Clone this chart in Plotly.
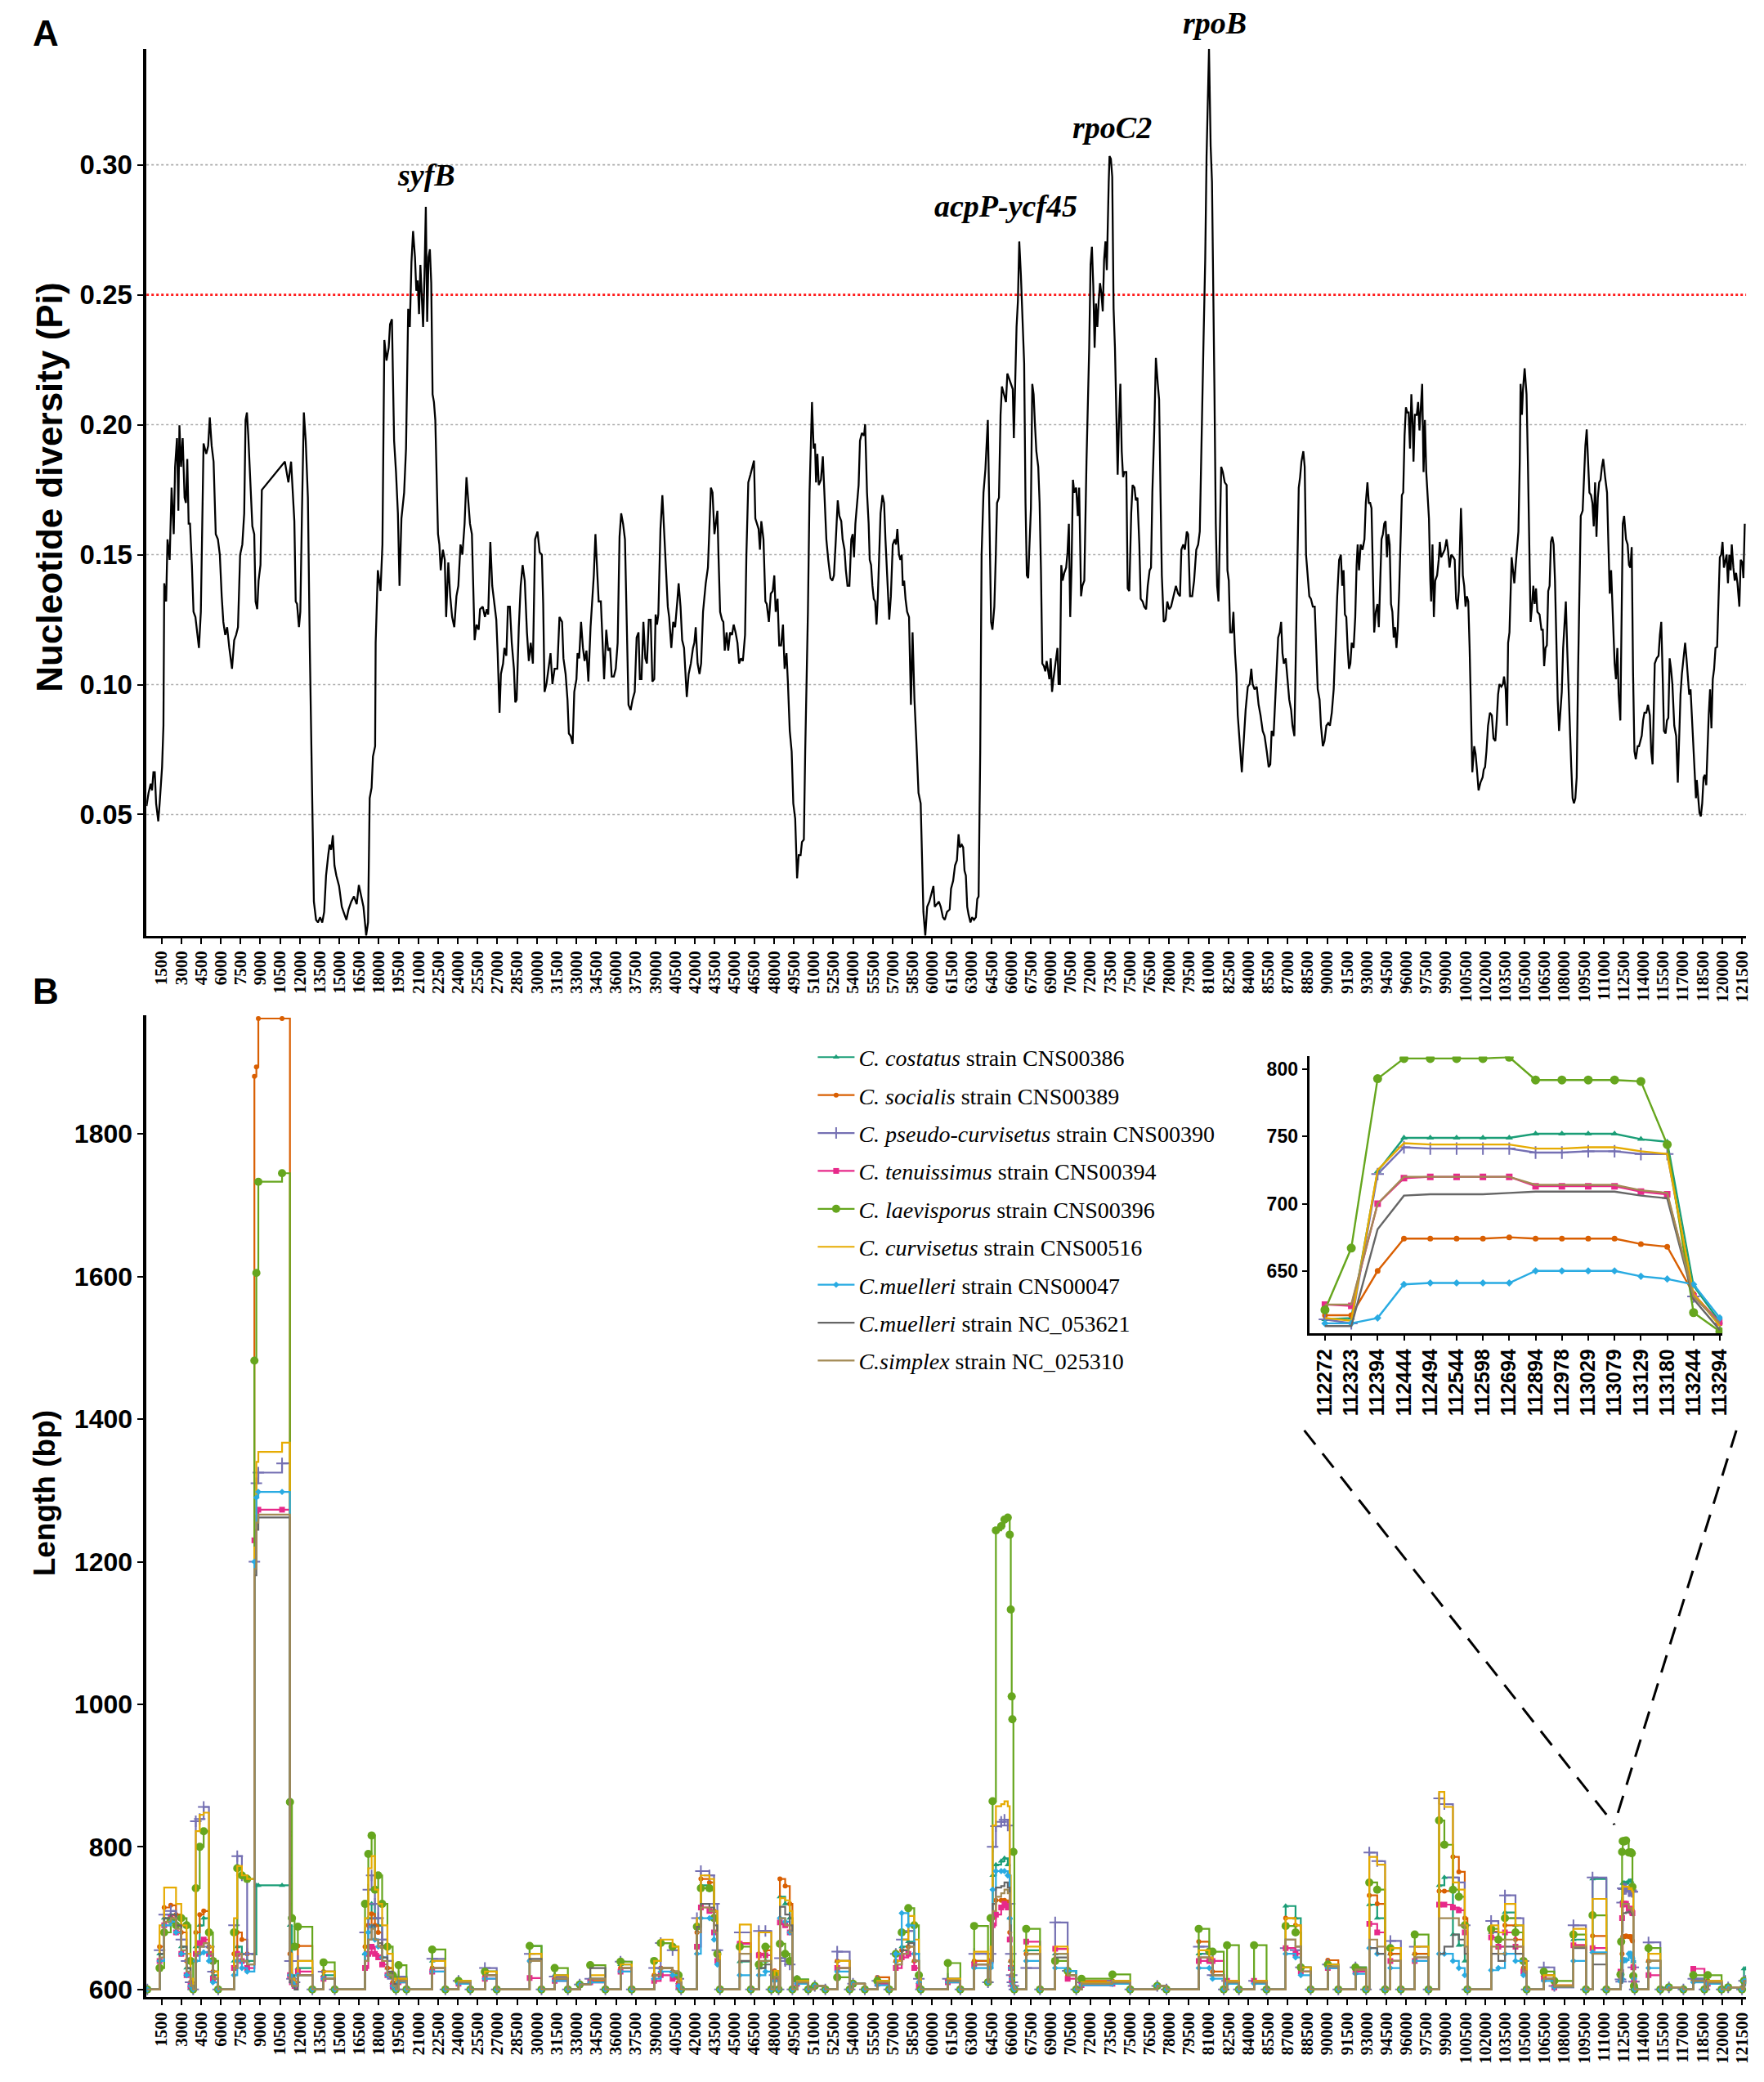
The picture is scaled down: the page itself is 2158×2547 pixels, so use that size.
import plotly.graph_objects as go

W, H = 2158, 2547

# ---------------- Panel A: sliding-window nucleotide diversity (position bp, Pi) ----------------
PI_SEG1 = [
    (360, 0.0533), (512, 0.0583), (677, 0.0619), (780, 0.0593), (883, 0.0663), (986, 0.0663), (1089, 0.0543),
    (1253, 0.0474), (1356, 0.0543), (1541, 0.0683), (1644, 0.0842), (1706, 0.1390), (1850, 0.1320), (1953, 0.1559),
    (2118, 0.1480), (2262, 0.1758), (2426, 0.1579), (2529, 0.1838), (2673, 0.1948), (2776, 0.1669), (2858, 0.1998),
    (2982, 0.1838), (3105, 0.1948), (3250, 0.1719), (3352, 0.1699), (3455, 0.1868), (3558, 0.1619), (3661, 0.1619),
    (3805, 0.1460), (3929, 0.1280), (4073, 0.1260), (4176, 0.1221), (4340, 0.1141), (4484, 0.1280), (4587, 0.1579),
    (4690, 0.1928), (4896, 0.1888), (5040, 0.1918), (5163, 0.2028), (5308, 0.1918), (5452, 0.1858), (5616, 0.1579),
    (5781, 0.1559), (5925, 0.1500), (6069, 0.1340), (6192, 0.1241), (6337, 0.1191), (6481, 0.1221), (6645, 0.1141),
    (6851, 0.1061), (7016, 0.1171), (7160, 0.1191), (7304, 0.1221), (7468, 0.1500), (7633, 0.1539), (7777, 0.1659),
    (7880, 0.2018), (7983, 0.2047), (8086, 0.1958), (8250, 0.1778), (8395, 0.1609), (8539, 0.1579), (8641, 0.1320),
    (8765, 0.1290), (8868, 0.1400), (9012, 0.1460), (9115, 0.1749), (10864, 0.1858), (10967, 0.1828), (11132, 0.1778),
    (11337, 0.1858), (11482, 0.1699), (11584, 0.1629), (11687, 0.1320), (11790, 0.1310), (11934, 0.1221),
    (12037, 0.1280), (12161, 0.1659), (12305, 0.2047), (12449, 0.1938), (12613, 0.1719), (12757, 0.1141),
    (12922, 0.0543), (13066, 0.0165), (13231, 0.0095), (13375, 0.0085), (13540, 0.0105), (13704, 0.0085),
    (13848, 0.0125), (13992, 0.0265), (14157, 0.0344), (14260, 0.0384), (14383, 0.0364), (14507, 0.0420),
    (14630, 0.0304), (14774, 0.0265), (14980, 0.0225), (15186, 0.0145), (15392, 0.0115), (15536, 0.0095),
    (15700, 0.0135), (15906, 0.0165), (16112, 0.0185), (16318, 0.0155), (16482, 0.0229), (16627, 0.0195),
    (16832, 0.0145), (17038, 0.0035), (17180, 0.0085), (17304, 0.0563), (17449, 0.0603), (17552, 0.0723),
    (17716, 0.0763), (17758, 0.1161), (17922, 0.1440), (18128, 0.1360), (18272, 0.1539), (18417, 0.2326),
    (18582, 0.2247), (18746, 0.2296), (18849, 0.2386), (18993, 0.2406), (19158, 0.1938), (19302, 0.1818),
    (19446, 0.1659), (19569, 0.1380), (19714, 0.1639), (19919, 0.1739), (20063, 0.1908), (20228, 0.2446),
    (20351, 0.2376), (20475, 0.2625), (20598, 0.2745), (20742, 0.2645), (20845, 0.2515), (20948, 0.2555),
    (21051, 0.2426), (21154, 0.2615), (21257, 0.2496), (21360, 0.2376), (21463, 0.2575), (21566, 0.2838),
    (21669, 0.2396), (21772, 0.2645), (21874, 0.2675), (21977, 0.2545), (22080, 0.2117), (22183, 0.2087),
    (22286, 0.2018), (22389, 0.1739), (22492, 0.1579), (22595, 0.1539), (22698, 0.1440), (22862, 0.1519),
    (23006, 0.1480), (23109, 0.1260), (23274, 0.1470), (23418, 0.1340), (23562, 0.1260), (23727, 0.1221),
    (23891, 0.1340), (24035, 0.1380), (24200, 0.1539), (24344, 0.1500), (24509, 0.1619), (24653, 0.1798),
    (24797, 0.1699), (24920, 0.1619), (25065, 0.1579), (25209, 0.1340), (25271, 0.1171), (25415, 0.1231),
    (25579, 0.1211), (25682, 0.1290), (25888, 0.1300), (26053, 0.1260), (26197, 0.1290), (26300, 0.1270),
    (26465, 0.1549), (26609, 0.1380), (26773, 0.1300), (26917, 0.1250), (27020, 0.1121), (27164, 0.0892),
    (27267, 0.1041), (27432, 0.1081), (27535, 0.1141), (27679, 0.1111), (27802, 0.1300), (27947, 0.1300),
    (28091, 0.1161), (28256, 0.1061), (28359, 0.0932), (28462, 0.0942), (28626, 0.1221), (28770, 0.1380),
    (28915, 0.1460), (29079, 0.1400), (29244, 0.1201), (29388, 0.1091), (29532, 0.1161), (29697, 0.1081),
    (29861, 0.1559), (30046, 0.1589), (30211, 0.1509), (30375, 0.1500), (30478, 0.1310), (30581, 0.0972),
    (30726, 0.1002), (30890, 0.1061), (31035, 0.1121), (31179, 0.1002), (31343, 0.1061), (31549, 0.1061),
    (31712, 0.1260),
]

PI_SEG2 = [
    (31912, 0.1241), (32015, 0.1101), (32179, 0.1041), (32323, 0.0942), (32426, 0.0812), (32570, 0.0802),
    (32714, 0.0772), (32838, 0.0972), (33002, 0.1021), (33085, 0.1121), (33208, 0.1101), (33352, 0.1241),
    (33496, 0.1141), (33620, 0.1091), (33764, 0.1131), (33908, 0.1012), (34073, 0.1221), (34176, 0.1310),
    (34320, 0.1420), (34443, 0.1579), (34587, 0.1440), (34690, 0.1320), (34855, 0.1320), (34999, 0.1121),
    (35102, 0.1021), (35266, 0.1211), (35410, 0.1131), (35554, 0.1141), (35678, 0.1031), (35843, 0.1031),
    (35987, 0.1061), (36131, 0.1161), (36275, 0.1569), (36398, 0.1659), (36542, 0.1619), (36686, 0.1559),
    (36810, 0.1241), (36954, 0.0922), (37118, 0.0902), (37263, 0.0942), (37427, 0.0972), (37571, 0.1181),
    (37715, 0.1201), (37818, 0.1021), (37942, 0.1021), (38086, 0.1241), (38230, 0.1101), (38353, 0.1081),
    (38497, 0.1250), (38641, 0.1250), (38765, 0.1012), (38909, 0.1021), (39012, 0.1270), (39115, 0.1231),
    (39218, 0.1270), (39382, 0.1599), (39526, 0.1729), (39670, 0.1569), (39794, 0.1480), (39938, 0.1300),
    (40041, 0.1260), (40205, 0.1141), (40350, 0.1241), (40494, 0.1221), (40658, 0.1320), (40761, 0.1390),
    (40905, 0.1300), (41029, 0.1171), (41173, 0.1141), (41276, 0.1061), (41379, 0.0952), (41523, 0.1041),
    (41688, 0.1081), (41852, 0.1141), (41955, 0.1161), (42058, 0.1221), (42202, 0.1081), (42346, 0.1041),
    (42469, 0.1081), (42614, 0.1280), (42717, 0.1350), (42819, 0.1390), (42984, 0.1450), (43087, 0.1589),
    (43210, 0.1758), (43334, 0.1739), (43478, 0.1579), (43581, 0.1619), (43704, 0.1669), (43786, 0.1500),
    (43910, 0.1280), (44054, 0.1250), (44157, 0.1241), (44260, 0.1131), (44404, 0.1201), (44527, 0.1131),
    (44671, 0.1201), (44815, 0.1191), (44939, 0.1231), (45083, 0.1201), (45227, 0.1161), (45350, 0.1081),
    (45494, 0.1101), (45638, 0.1091), (45803, 0.1191), (45906, 0.1500), (46050, 0.1778), (46215, 0.1808),
    (46379, 0.1838), (46482, 0.1862), (46585, 0.1639), (46688, 0.1619), (46832, 0.1599), (46935, 0.1519),
    (47038, 0.1629), (47203, 0.1559), (47347, 0.1320), (47450, 0.1310), (47614, 0.1241), (47758, 0.1350),
    (47902, 0.1360), (48026, 0.1420), (48129, 0.1280), (48273, 0.1330), (48396, 0.1151), (48540, 0.1151),
    (48684, 0.1231), (48808, 0.1061), (48952, 0.1121), (49055, 0.1012), (49199, 0.0822), (49343, 0.0743),
    (49467, 0.0543), (49611, 0.0484), (49755, 0.0255), (49878, 0.0344), (50022, 0.0344), (50125, 0.0394),
    (50269, 0.0404), (50372, 0.0743), (50495, 0.1041), (50578, 0.1280), (50701, 0.1739), (50886, 0.2087),
    (51010, 0.1908), (51113, 0.1928), (51195, 0.1778), (51298, 0.1888), (51401, 0.1768), (51566, 0.1788),
    (51710, 0.1878), (51813, 0.1758), (51977, 0.1559), (52121, 0.1480), (52286, 0.1410), (52430, 0.1400),
    (52553, 0.1420), (52698, 0.1559), (52842, 0.1709), (52965, 0.1649), (53109, 0.1629), (53212, 0.1559),
    (53356, 0.1519), (53459, 0.1440), (53582, 0.1380), (53727, 0.1380), (53871, 0.1559), (53974, 0.1579),
    (54077, 0.1490), (54180, 0.1619), (54324, 0.1719), (54427, 0.1768), (54530, 0.1938), (54674, 0.1968),
    (54839, 0.1958), (54921, 0.2002), (55064, 0.1739), (55188, 0.1619), (55270, 0.1480), (55373, 0.1460),
    (55476, 0.1380), (55579, 0.1330), (55682, 0.1320), (55785, 0.1231), (55887, 0.1340), (55990, 0.1500),
    (56093, 0.1659), (56237, 0.1729), (56361, 0.1699), (56464, 0.1559), (56608, 0.1380), (56752, 0.1250),
    (56875, 0.1340), (57019, 0.1539), (57164, 0.1559), (57266, 0.1539), (57369, 0.1599), (57493, 0.1500),
    (57596, 0.1480), (57699, 0.1500), (57781, 0.1380), (57884, 0.1400), (57987, 0.1330), (58110, 0.1280),
    (58254, 0.1260), (58398, 0.0922), (58522, 0.1201), (58666, 0.0942), (58810, 0.0783), (58974, 0.0583),
    (59139, 0.0543), (59221, 0.0344), (59345, 0.0125), (59489, 0.0035), (59633, 0.0145), (59798, 0.0165),
    (59962, 0.0195), (60106, 0.0225), (60209, 0.0145), (60374, 0.0155), (60518, 0.0165), (60662, 0.0145),
    (60827, 0.0105), (60971, 0.0095), (61135, 0.0125), (61341, 0.0135), (61444, 0.0215),
]

PI_SEG3 = [
    (61603, 0.0245), (61747, 0.0304), (61891, 0.0324), (62014, 0.0424), (62117, 0.0374), (62261, 0.0384),
    (62364, 0.0374), (62467, 0.0284), (62570, 0.0265), (62673, 0.0145), (62776, 0.0115), (62920, 0.0085),
    (63043, 0.0105), (63187, 0.0095), (63331, 0.0105), (63434, 0.0175), (63537, 0.0185), (63661, 0.0743),
    (63764, 0.1500), (63908, 0.1739), (64052, 0.1828), (64155, 0.1958), (64237, 0.2018), (64361, 0.1639),
    (64484, 0.1241), (64587, 0.1211), (64731, 0.1300), (64834, 0.1480), (64937, 0.1699), (65081, 0.1719),
    (65204, 0.2038), (65307, 0.2147), (65451, 0.2117), (65616, 0.2087), (65719, 0.2197), (65863, 0.2177),
    (66007, 0.2157), (66130, 0.2137), (66213, 0.1948), (66336, 0.2177), (66418, 0.2376), (66521, 0.2476),
    (66624, 0.2705), (66748, 0.2575), (66830, 0.2466), (66933, 0.2376), (66995, 0.2237), (67098, 0.1699),
    (67200, 0.1420), (67303, 0.1410), (67406, 0.1579), (67509, 0.1679), (67612, 0.2157), (67715, 0.2117),
    (67818, 0.1998), (67921, 0.1898), (68065, 0.1838), (68168, 0.1699), (68271, 0.1440), (68374, 0.1081),
    (68497, 0.1071), (68600, 0.1051), (68703, 0.1091), (68806, 0.1061), (68909, 0.1021), (69012, 0.1101),
    (69114, 0.0972), (69217, 0.1021), (69361, 0.1081), (69526, 0.1141), (69608, 0.1002), (69711, 0.1002),
    (69814, 0.1460), (69917, 0.1400), (70041, 0.1430), (70185, 0.1450), (70288, 0.1509), (70390, 0.1619),
    (70493, 0.1260), (70596, 0.1460), (70699, 0.1788), (70802, 0.1739), (70946, 0.1758), (71069, 0.1649),
    (71172, 0.1758), (71316, 0.1340), (71419, 0.1380), (71563, 0.1400), (71728, 0.1858), (71831, 0.2047),
    (71934, 0.2296), (72037, 0.2615), (72140, 0.2685), (72243, 0.2535), (72345, 0.2296), (72448, 0.2466),
    (72551, 0.2376), (72654, 0.2476), (72757, 0.2545), (72860, 0.2506), (72963, 0.2436), (73066, 0.2635),
    (73169, 0.2705), (73272, 0.2595), (73333, 0.2774), (73416, 0.2934), (73477, 0.3033), (73580, 0.3023),
    (73683, 0.2954), (73786, 0.2446), (73889, 0.2296), (73992, 0.1998), (74095, 0.1808), (74198, 0.2018),
    (74301, 0.2157), (74403, 0.1898), (74506, 0.1798), (74609, 0.1818), (74753, 0.1818), (74856, 0.1370),
    (74980, 0.1360), (75124, 0.1659), (75227, 0.1768), (75371, 0.1758), (75474, 0.1709), (75597, 0.1719),
    (75741, 0.1539), (75844, 0.1330), (75988, 0.1320), (76112, 0.1300), (76256, 0.1290), (76379, 0.1380),
    (76523, 0.1440), (76626, 0.1450), (76729, 0.1739), (76873, 0.1978), (76996, 0.2257), (77140, 0.2157),
    (77243, 0.2097), (77346, 0.1739), (77449, 0.1420), (77593, 0.1241), (77737, 0.1250), (77861, 0.1320),
    (78005, 0.1290), (78149, 0.1300), (78314, 0.1340), (78519, 0.1380), (78684, 0.1350), (78828, 0.1340),
    (78931, 0.1519), (79075, 0.1539), (79198, 0.1519), (79342, 0.1589), (79445, 0.1579), (79589, 0.1340),
    (79754, 0.1340), (79898, 0.1400), (80063, 0.1519), (80207, 0.1539), (80330, 0.1589), (80475, 0.2018),
    (80619, 0.2336), (80742, 0.2635), (80845, 0.3033), (81030, 0.3446), (81154, 0.3073), (81257, 0.2934),
    (81359, 0.2535), (81442, 0.2137), (81545, 0.1619), (81648, 0.1380), (81751, 0.1320), (81854, 0.1639),
    (81957, 0.1838), (82081, 0.1818), (82225, 0.1778), (82369, 0.1768), (82430, 0.1440), (82533, 0.1400),
    (82636, 0.1201), (82780, 0.1201), (82883, 0.1280), (83007, 0.1121), (83110, 0.1041), (83213, 0.0882),
    (83357, 0.0783), (83522, 0.0663), (83666, 0.0783), (83810, 0.0902), (83975, 0.0992), (84119, 0.1002),
    (84242, 0.1061), (84345, 0.1002), (84489, 0.0982), (84654, 0.0992), (84798, 0.0922), (84942, 0.0882),
    (85107, 0.0822), (85251, 0.0802), (85416, 0.0743), (85560, 0.0683), (85683, 0.0693), (85786, 0.0822),
    (85930, 0.0802), (86033, 0.0922), (86136, 0.1021), (86280, 0.1181), (86403, 0.1201), (86506, 0.1241),
    (86609, 0.1121), (86712, 0.1081), (86856, 0.1101), (87000, 0.1002), (87122, 0.0942), (87266, 0.0902),
    (87369, 0.0842), (87513, 0.0802), (87616, 0.1141), (87740, 0.1440), (87843, 0.1758), (87946, 0.1798),
    (88049, 0.1858), (88192, 0.1898), (88295, 0.1838), (88398, 0.1500), (88501, 0.1420), (88645, 0.1340),
    (88769, 0.1330), (88913, 0.1300), (89057, 0.1300), (89180, 0.1141), (89283, 0.0982), (89427, 0.0942),
    (89530, 0.0842), (89674, 0.0763), (89798, 0.0783), (89942, 0.0842), (90086, 0.0852), (90209, 0.0842),
    (90353, 0.0892), (90497, 0.0982), (90621, 0.1161), (90765, 0.1340), (90909, 0.1480),
]

PI_SEG4 = [
    (91042, 0.1500), (91145, 0.1380), (91248, 0.1440), (91351, 0.1270), (91454, 0.1260), (91556, 0.1141),
    (91659, 0.1061), (91762, 0.1081), (91865, 0.1161), (92009, 0.1141), (92133, 0.1260), (92236, 0.1460),
    (92318, 0.1539), (92421, 0.1440), (92544, 0.1539), (92688, 0.1519), (92832, 0.1559), (92935, 0.1699),
    (93059, 0.1778), (93162, 0.1699), (93265, 0.1699), (93367, 0.1679), (93470, 0.1440), (93573, 0.1201),
    (93697, 0.1280), (93820, 0.1310), (93923, 0.1221), (94026, 0.1380), (94129, 0.1559), (94232, 0.1579),
    (94335, 0.1619), (94438, 0.1629), (94541, 0.1490), (94644, 0.1579), (94746, 0.1539), (94849, 0.1310),
    (94952, 0.1280), (95055, 0.1181), (95158, 0.1221), (95261, 0.1141), (95364, 0.1221), (95467, 0.1360),
    (95570, 0.1539), (95672, 0.1729), (95775, 0.1739), (95878, 0.1958), (95981, 0.2067), (96084, 0.2047),
    (96187, 0.2047), (96290, 0.1908), (96393, 0.2117), (96496, 0.1998), (96557, 0.1858), (96660, 0.2038),
    (96804, 0.2038), (96907, 0.2087), (97010, 0.1978), (97113, 0.2057), (97216, 0.2157), (97319, 0.1818),
    (97422, 0.2018), (97525, 0.1818), (97628, 0.1739), (97730, 0.1639), (97833, 0.1400), (97895, 0.1320),
    (97998, 0.1539), (98101, 0.1260), (98204, 0.1400), (98348, 0.1420), (98471, 0.1480), (98554, 0.1549),
    (98656, 0.1490), (98759, 0.1500), (98924, 0.1519), (99068, 0.1559), (99171, 0.1519), (99294, 0.1450),
    (99418, 0.1500), (99582, 0.1490), (99685, 0.1480), (99788, 0.1330), (99891, 0.1290), (99994, 0.1360),
    (100097, 0.1519), (100159, 0.1679), (100241, 0.1559), (100303, 0.1420), (100406, 0.1380), (100509, 0.1300),
    (100612, 0.1340), (100715, 0.1320), (100817, 0.1141), (100920, 0.0842), (101023, 0.0663), (101167, 0.0763),
    (101270, 0.0733), (101373, 0.0673), (101497, 0.0593), (101641, 0.0623), (101805, 0.0643), (101888, 0.0673),
    (101991, 0.0683), (102094, 0.0743), (102217, 0.0842), (102361, 0.0892), (102505, 0.0882), (102628, 0.0793),
    (102773, 0.0783), (102875, 0.0862), (102978, 0.0962), (103081, 0.1002), (103225, 0.0992), (103349, 0.1002),
    (103431, 0.1031), (103554, 0.0982), (103657, 0.0842), (103740, 0.1161), (103843, 0.1201), (103946, 0.1380),
    (104007, 0.1490), (104110, 0.1440), (104213, 0.1390), (104316, 0.1460), (104419, 0.1539), (104522, 0.1589),
    (104625, 0.1858), (104686, 0.2157), (104789, 0.2038), (104872, 0.2137), (104995, 0.2217), (105139, 0.2117),
    (105242, 0.1858), (105345, 0.1539), (105448, 0.1241), (105551, 0.1300), (105654, 0.1380), (105757, 0.1310),
    (105859, 0.1370), (105962, 0.1280), (106127, 0.1270), (106271, 0.1211), (106374, 0.1211), (106477, 0.1071),
    (106580, 0.1141), (106683, 0.1151), (106786, 0.1360), (106889, 0.1380), (106991, 0.1549), (107094, 0.1569),
    (107197, 0.1539), (107300, 0.1400), (107403, 0.1141), (107506, 0.0942), (107609, 0.0822), (107712, 0.0902),
    (107815, 0.0972), (107918, 0.1141), (108021, 0.1241), (108123, 0.1320), (108226, 0.1141), (108329, 0.0962),
    (108432, 0.0803), (108535, 0.0683), (108638, 0.0563), (108741, 0.0543), (108844, 0.0563), (108947, 0.0643),
    (109050, 0.1041), (109153, 0.1380), (109255, 0.1649), (109399, 0.1669), (109523, 0.1818), (109605, 0.1918),
    (109708, 0.1982), (109811, 0.1858), (109914, 0.1739), (110037, 0.1729), (110140, 0.1699), (110243, 0.1609),
    (110346, 0.1778), (110449, 0.1569), (110552, 0.1719), (110655, 0.1778), (110758, 0.1788), (110861, 0.1838),
    (110964, 0.1868), (111108, 0.1798), (111252, 0.1739), (111355, 0.1539), (111458, 0.1350), (111561, 0.1440),
    (111684, 0.1260), (111828, 0.1081), (111931, 0.1021), (112034, 0.1141), (112137, 0.0962), (112261, 0.0862),
    (112343, 0.1201), (112446, 0.1619), (112549, 0.1649), (112693, 0.1559), (112816, 0.1539), (112919, 0.1460),
    (113022, 0.1450), (113125, 0.1529), (113228, 0.1041), (113331, 0.0743), (113434, 0.0713), (113577, 0.0763),
    (113680, 0.0763), (113783, 0.0783), (113886, 0.0803), (113989, 0.0862), (114092, 0.0892), (114236, 0.0892),
    (114360, 0.0922), (114503, 0.0882), (114606, 0.0743), (114709, 0.0693), (114812, 0.0882), (114874, 0.1081),
    (115018, 0.1101), (115162, 0.1111), (115265, 0.1191), (115368, 0.1241), (115471, 0.1041), (115574, 0.0822),
    (115698, 0.0812), (115801, 0.0862), (115904, 0.0872), (116006, 0.1101), (116109, 0.1061), (116212, 0.1002),
    (116356, 0.0842), (116500, 0.0802), (116624, 0.0623), (116727, 0.0802), (116830, 0.0962), (116933, 0.1041),
    (117077, 0.1101), (117180, 0.1161), (117283, 0.1101), (117386, 0.1021), (117488, 0.0962), (117591, 0.0982),
    (117694, 0.0882), (117797, 0.0802), (117900, 0.0663), (118003, 0.0563), (118065, 0.0633), (118168, 0.0563),
    (118271, 0.0506), (118374, 0.0493), (118477, 0.0543), (118580, 0.0643), (118683, 0.0653), (118786, 0.0613),
    (118888, 0.0783), (118971, 0.0882), (119074, 0.0982), (119177, 0.0832), (119280, 0.1021), (119383, 0.1061),
    (119486, 0.1141), (119609, 0.1145), (119712, 0.1320), (119815, 0.1490), (119918, 0.1500), (120021, 0.1549),
    (120124, 0.1450), (120227, 0.1480), (120330, 0.1500), (120432, 0.1390), (120535, 0.1500), (120638, 0.1440),
    (120721, 0.1539), (120844, 0.1450), (120947, 0.1400), (121050, 0.1430), (121153, 0.1390), (121297, 0.1300),
    (121400, 0.1480), (121523, 0.1470), (121605, 0.1410), (121708, 0.1619),
]

PI_THRESHOLD = 0.25
PI_TICKS = [0.05, 0.10, 0.15, 0.20, 0.25, 0.30]
GENE_LABELS = ["syfB", "acpP-ycf45", "rpoC2", "rpoB"]
GENE_LABEL_X = [21600, 65580, 73660, 81450]
GENE_LABEL_Y = [0.2962, 0.2840, 0.3145, 0.3545]

POSITION_TICKS = list(range(1500, 121501, 1500))

# ---------------- Panel B: window length (bp) per strain ----------------
B_POS = [
    420, 1350, 1700, 2200, 2600, 3000, 3400, 3700, 3900, 4100,
    4400, 4700, 5100, 5400, 5800, 7000, 7250, 7600, 8000, 8550,
    8700, 8850, 10650, 11250, 11400, 11600, 11850, 12950, 13800, 14650,
    16950, 17200, 17450, 17700, 17950, 18250, 18650, 19050, 19300, 19500,
    20100, 22050, 23050, 24050, 24950, 26050, 26950, 29450, 30350, 31350,
    32350, 33250, 34050, 35200, 36350, 37200, 38900, 39400, 40300, 40750,
    40950, 42150, 42450, 43100, 43450, 43700, 43900, 45400, 46250, 46850,
    47350, 47800, 48050, 48350, 48450, 48850, 49200, 49400, 49750, 50600,
    51100, 51900, 52800, 53750, 54000, 54900, 55850, 56750, 57250, 57700,
    58200, 58650, 59000, 59150, 61200, 62150, 63200, 64250, 64450, 64600,
    64850, 65250, 65500, 65750, 65900, 65980, 66050, 66100, 66180, 66250,
    67150, 68200, 69350, 70300, 70950, 71350, 73700, 75050, 77100, 77800,
    80250, 81050, 81300, 82150, 82400, 83300, 84450, 85400, 86850, 87600,
    88000, 88750, 90050, 90850, 92150, 92950, 93200, 93800, 94400, 94800,
    95600, 96650, 97700, 98500, 98900, 99550, 100000, 100450, 100650, 102450,
    103000, 103500, 104300, 104900, 105150, 106450, 107250, 108700, 109650, 110150,
    111200, 112272, 112323, 112394, 112444, 112494, 112544, 112598, 112694, 112894,
    112978, 113029, 113079, 113129, 113180, 113244, 113294, 113350, 114400, 115300,
    115950, 117050, 117800, 118650, 118900, 119950, 120450, 121500, 121650, 121800,
]

LEN_COSTATUS = [
    600, 650, 700, 705, 690, 660, 630, 605, 600, 660,
    690, 700, 660, 620, 600, 640, 660, 650, 640, 650,
    746, 746, 746, 690, 620, 610, 630, 600, 620, 600,
    650, 700, 720, 700, 690, 660, 630, 610, 600, 615,
    600, 640, 600, 612, 600, 625, 600, 661, 600, 620,
    600, 607, 615, 600, 635, 600, 620, 630, 625, 610,
    600, 690, 746, 740, 700, 650, 600, 639, 600, 630,
    640, 600, 620, 600, 730, 720, 700, 600, 614, 600,
    605, 600, 640, 600, 608, 600, 610, 600, 640, 660,
    667, 640, 610, 600, 615, 600, 640, 610, 640, 760,
    775, 780, 784, 775, 700, 640, 620, 610, 605, 600,
    655, 600, 650, 626, 600, 610, 612, 600, 605, 600,
    650, 640, 620, 600, 612, 600, 612, 600, 717, 700,
    631, 600, 635, 600, 631, 600, 719, 700, 600, 650,
    600, 650, 600, 746, 757, 677, 662, 640, 600, 680,
    660, 708, 690, 640, 600, 620, 605, 670, 600, 755,
    600, 614, 615, 724, 749, 749, 749, 749, 749, 752,
    752, 752, 752, 748, 746, 639, 612, 600, 640, 600,
    603, 600, 615, 600, 612, 600, 603, 600, 629, 629,
]
LEN_SOCIALIS = [
    600, 660, 715, 718, 705, 680, 640, 610, 600, 680,
    705, 710, 660, 625, 600, 650, 680, 670, 650, 1881,
    1894, 1962, 1962, 650, 615, 610, 661, 600, 625, 600,
    660, 690, 706, 690, 680, 660, 630, 610, 600, 615,
    600, 630, 600, 610, 600, 620, 600, 640, 600, 615,
    600, 607, 612, 600, 630, 600, 620, 630, 625, 610,
    600, 680, 755, 750, 710, 650, 600, 665, 600, 650,
    655, 600, 626, 600, 755, 745, 720, 600, 612, 600,
    605, 600, 640, 600, 608, 600, 617, 600, 640, 655,
    660, 640, 610, 600, 612, 600, 640, 610, 640, 700,
    725, 725, 725, 720, 680, 640, 620, 610, 605, 600,
    650, 600, 657, 620, 600, 612, 612, 600, 605, 600,
    667, 655, 625, 600, 612, 600, 612, 600, 700, 690,
    631, 600, 641, 600, 628, 600, 732, 720, 600, 650,
    600, 650, 600, 738, 738, 786, 765, 700, 600, 681,
    670, 690, 670, 630, 600, 620, 606, 662, 600, 675,
    600, 617, 617, 650, 674, 674, 674, 674, 675, 674,
    674, 674, 674, 670, 668, 633, 611, 600, 640, 600,
    603, 600, 612, 600, 612, 600, 603, 600, 612, 612,
]
LEN_PSEUDO = [
    600, 655, 705, 710, 700, 670, 640, 610, 600, 836,
    839, 856, 660, 625, 600, 690, 787, 760, 650, 1200,
    1310, 1325, 1338, 640, 615, 610, 640, 600, 625, 600,
    680, 740, 760, 720, 700, 670, 640, 615, 600, 618,
    600, 643, 600, 612, 600, 630, 600, 650, 600, 618,
    600, 607, 615, 600, 639, 600, 630, 665, 655, 615,
    600, 700, 766, 760, 720, 655, 600, 680, 600, 682,
    682, 600, 620, 600, 644, 640, 635, 600, 612, 600,
    605, 600, 653, 600, 608, 600, 612, 600, 650, 670,
    682, 650, 615, 600, 615, 600, 650, 610, 650, 800,
    829, 835, 838, 830, 720, 650, 620, 610, 605, 600,
    630, 600, 694, 626, 600, 610, 612, 600, 605, 600,
    660, 650, 620, 600, 612, 600, 612, 600, 658, 655,
    631, 600, 635, 600, 631, 600, 792, 780, 600, 668,
    600, 660, 600, 868, 860, 757, 750, 690, 600, 696,
    680, 732, 700, 640, 600, 631, 605, 690, 600, 757,
    600, 614, 611, 722, 742, 741, 741, 741, 741, 738,
    738, 739, 739, 737, 737, 631, 611, 600, 666, 600,
    603, 600, 615, 600, 612, 600, 603, 600, 612, 612,
]
LEN_TENUISSIMUS = [
    600, 640, 690, 700, 680, 650, 620, 605, 600, 650,
    665, 670, 650, 615, 600, 630, 650, 640, 630, 1230,
    1262, 1273, 1273, 620, 610, 605, 625, 600, 615, 600,
    630, 650, 660, 650, 645, 635, 620, 605, 600, 610,
    600, 625, 600, 608, 600, 615, 600, 616, 600, 612,
    600, 607, 610, 600, 625, 600, 612, 620, 615, 605,
    600, 660, 715, 710, 680, 640, 600, 664, 600, 648,
    648, 600, 615, 600, 694, 690, 680, 600, 608, 600,
    605, 600, 630, 600, 608, 600, 608, 600, 630, 645,
    650, 630, 605, 600, 610, 600, 635, 610, 640, 690,
    705, 715, 720, 715, 670, 630, 615, 608, 603, 600,
    667, 600, 657, 615, 600, 606, 608, 600, 605, 600,
    640, 640, 640, 600, 612, 600, 612, 600, 658, 650,
    625, 600, 630, 600, 625, 600, 692, 680, 600, 640,
    600, 640, 600, 719, 719, 715, 711, 680, 600, 673,
    660, 680, 660, 625, 600, 615, 603, 662, 600, 658,
    600, 625, 624, 700, 719, 720, 720, 720, 720, 713,
    713, 713, 713, 709, 707, 631, 612, 600, 620, 600,
    603, 600, 629, 600, 608, 600, 603, 600, 612, 612,
]
LEN_LAEVISPORUS = [
    600, 630, 680, 697, 690, 700, 690, 640, 600, 742,
    800, 822, 680, 640, 600, 680, 770, 760, 755, 1482,
    1605, 1733, 1745, 863, 700, 660, 688, 600, 638, 600,
    720, 790, 816, 740, 760, 720, 660, 620, 600, 634,
    600, 656, 600, 612, 600, 625, 600, 661, 600, 630,
    600, 607, 634, 600, 639, 600, 640, 665, 660, 620,
    600, 688, 742, 742, 700, 650, 600, 660, 600, 635,
    660, 600, 620, 600, 664, 650, 640, 600, 614, 600,
    605, 600, 617, 600, 608, 600, 612, 600, 650, 680,
    714, 690, 620, 600, 637, 600, 689, 610, 700, 864,
    1244, 1250, 1259, 1262, 1238, 1133, 1011, 979, 793, 600,
    685, 600, 640, 626, 600, 615, 621, 600, 605, 600,
    685, 653, 653, 600, 662, 600, 662, 600, 689, 680,
    631, 600, 635, 600, 631, 600, 750, 740, 600, 658,
    600, 677, 600, 837, 803, 740, 730, 690, 600, 685,
    670, 700, 680, 640, 600, 625, 612, 677, 600, 704,
    600, 621, 667, 793, 808, 808, 808, 808, 809, 792,
    792, 792, 792, 791, 744, 619, 605, 600, 658, 600,
    603, 600, 620, 600, 620, 600, 603, 600, 612, 612,
]
LEN_CURVISETUS = [
    600, 690, 743, 743, 720, 690, 650, 615, 600, 822,
    845, 848, 660, 625, 600, 700, 773, 760, 755, 1220,
    1340, 1354, 1367, 650, 615, 610, 640, 600, 625, 600,
    700, 770, 787, 740, 720, 690, 650, 615, 600, 615,
    600, 640, 600, 612, 600, 625, 600, 650, 600, 620,
    600, 607, 620, 600, 635, 600, 640, 670, 660, 615,
    600, 700, 760, 755, 710, 650, 600, 691, 600, 680,
    680, 600, 626, 600, 728, 725, 710, 600, 612, 600,
    605, 600, 640, 600, 608, 600, 612, 600, 640, 670,
    703, 670, 615, 600, 615, 600, 653, 610, 660, 830,
    857, 860, 864, 857, 760, 660, 620, 610, 605, 600,
    660, 600, 660, 620, 600, 610, 612, 600, 605, 600,
    655, 645, 620, 600, 612, 600, 612, 600, 700, 690,
    631, 600, 635, 600, 628, 600, 786, 775, 600, 658,
    600, 660, 600, 877, 856, 750, 740, 690, 600, 690,
    680, 720, 690, 640, 600, 620, 605, 685, 600, 727,
    600, 615, 613, 725, 745, 744, 744, 744, 744, 741,
    741, 742, 742, 739, 737, 633, 609, 600, 650, 600,
    603, 600, 612, 600, 612, 600, 603, 600, 612, 612,
]
LEN_MUELLERI_CNS = [
    600, 640, 690, 695, 680, 650, 620, 605, 600, 640,
    650, 652, 640, 610, 600, 620, 640, 630, 625, 1200,
    1290, 1298, 1298, 620, 610, 605, 620, 600, 615, 600,
    650, 680, 688, 670, 660, 645, 620, 605, 600, 610,
    600, 625, 600, 608, 600, 615, 600, 640, 600, 612,
    600, 607, 610, 600, 625, 600, 615, 625, 620, 605,
    600, 650, 700, 700, 670, 635, 600, 620, 600, 620,
    625, 600, 612, 600, 700, 695, 680, 600, 608, 600,
    605, 600, 625, 600, 608, 600, 606, 600, 650, 707,
    690, 650, 610, 600, 610, 600, 630, 610, 630, 740,
    766, 766, 766, 760, 700, 630, 615, 608, 603, 600,
    640, 600, 630, 626, 600, 606, 608, 600, 605, 600,
    630, 630, 615, 600, 608, 600, 608, 600, 650, 645,
    620, 600, 630, 600, 622, 600, 658, 650, 600, 630,
    600, 640, 600, 650, 650, 640, 630, 620, 600, 627,
    630, 650, 640, 620, 600, 612, 603, 640, 600, 652,
    600, 611, 611, 615, 640, 641, 641, 641, 641, 650,
    650, 650, 650, 646, 644, 640, 615, 600, 630, 600,
    603, 600, 610, 600, 608, 600, 603, 600, 612, 612,
]
LEN_MUELLERI_NC = [
    600, 650, 700, 705, 690, 660, 630, 605, 600, 650,
    660, 665, 650, 615, 600, 630, 650, 640, 635, 1181,
    1245, 1262, 1262, 610, 605, 600, 620, 600, 615, 600,
    640, 670, 690, 670, 665, 645, 625, 608, 600, 612,
    600, 630, 600, 610, 600, 620, 600, 643, 600, 615,
    600, 607, 630, 600, 630, 600, 620, 630, 625, 610,
    600, 688, 720, 715, 690, 640, 600, 640, 600, 630,
    635, 600, 618, 600, 716, 705, 690, 600, 610, 600,
    605, 600, 630, 600, 608, 600, 610, 600, 635, 655,
    665, 640, 608, 600, 612, 600, 635, 610, 640, 720,
    743, 745, 750, 743, 690, 630, 615, 608, 603, 600,
    650, 600, 645, 620, 600, 608, 610, 600, 605, 600,
    645, 640, 620, 600, 610, 600, 610, 600, 670, 660,
    625, 600, 632, 600, 628, 600, 658, 650, 600, 640,
    600, 645, 600, 650, 660, 677, 670, 650, 600, 650,
    640, 660, 650, 625, 600, 615, 604, 658, 600, 635,
    600, 609, 609, 681, 706, 707, 707, 707, 708, 709,
    709, 709, 709, 706, 704, 629, 606, 600, 640, 600,
    603, 600, 612, 600, 610, 600, 603, 600, 612, 612,
]
LEN_SIMPLEX = [
    600, 645, 695, 700, 685, 655, 625, 605, 600, 650,
    660, 665, 650, 615, 600, 630, 650, 640, 635, 1190,
    1255, 1266, 1266, 615, 605, 605, 620, 600, 615, 600,
    640, 670, 685, 670, 660, 640, 620, 605, 600, 612,
    600, 630, 600, 610, 600, 620, 600, 640, 600, 615,
    600, 607, 615, 600, 630, 600, 620, 630, 625, 610,
    600, 680, 715, 710, 680, 640, 600, 650, 600, 640,
    640, 600, 618, 600, 700, 690, 680, 600, 610, 600,
    605, 600, 630, 600, 608, 600, 610, 600, 635, 650,
    660, 640, 608, 600, 612, 600, 635, 610, 640, 710,
    730, 735, 740, 735, 680, 630, 615, 608, 603, 600,
    650, 600, 650, 620, 600, 608, 610, 600, 605, 600,
    645, 640, 620, 600, 610, 600, 610, 600, 670, 660,
    625, 600, 632, 600, 628, 600, 670, 660, 600, 640,
    600, 645, 600, 700, 700, 700, 690, 660, 600, 660,
    650, 670, 660, 625, 600, 615, 604, 660, 600, 650,
    600, 625, 625, 700, 720, 720, 720, 720, 720, 714,
    714, 714, 714, 710, 708, 631, 611, 600, 640, 600,
    603, 600, 612, 600, 610, 600, 603, 600, 612, 612,
]

STRAIN_NAMES = [
    "<i>C. costatus</i> strain CNS00386",
    "<i>C. socialis</i> strain CNS00389",
    "<i>C. pseudo-curvisetus</i> strain CNS00390",
    "<i>C. tenuissimus</i> strain CNS00394",
    "<i>C. laevisporus</i> strain CNS00396",
    "<i>C. curvisetus</i> strain CNS00516",
    "<i>C.muelleri</i> strain CNS00047",
    "<i>C.muelleri</i> strain NC_053621",
    "<i>C.simplex</i> strain NC_025310",
]
STRAIN_VALUES = [LEN_COSTATUS, LEN_SOCIALIS, LEN_PSEUDO, LEN_TENUISSIMUS, LEN_LAEVISPORUS,
                 LEN_CURVISETUS, LEN_MUELLERI_CNS, LEN_MUELLERI_NC, LEN_SIMPLEX]
STRAIN_COLORS = ["#1B9E77", "#D95F02", "#7570B3", "#E7298A", "#66A61E",
                 "#E6AB02", "#29ABE2", "#666666", "#A38A55"]
STRAIN_SYMBOLS = ["triangle-up", "circle", "cross-thin", "square", "circle",
                  None, "diamond", None, None]
STRAIN_MSIZE = [7, 6, 10, 7, 10, 0, 6, 0, 0]

INSET_START, INSET_END = 112272, 113294
LENGTH_TICKS = [600, 800, 1000, 1200, 1400, 1600, 1800]
INSET_TICKS = [650, 700, 750, 800]

for vals in STRAIN_VALUES:
    assert len(vals) == len(B_POS), (len(vals), len(B_POS))

# ---------------- build figure ----------------
POS_A = [p for seg in (PI_SEG1, PI_SEG2, PI_SEG3, PI_SEG4) for p, _ in seg]
PI_A = [v for seg in (PI_SEG1, PI_SEG2, PI_SEG3, PI_SEG4) for _, v in seg]

def px_x(px):
    return px / W

def px_y(px):
    return 1 - px / H

fig = go.Figure()

fig.add_trace(go.Scatter(x=POS_A, y=PI_A, mode="lines", line=dict(color="black", width=2.3),
                         showlegend=False, xaxis="x", yaxis="y", hoverinfo="skip"))

inset_idx = [i for i, p in enumerate(B_POS) if INSET_START <= p <= INSET_END]
inset_cats = [str(B_POS[i]) for i in inset_idx]

for k, (name, vals, col, sym, ms) in enumerate(zip(STRAIN_NAMES, STRAIN_VALUES, STRAIN_COLORS,
                                                    STRAIN_SYMBOLS, STRAIN_MSIZE)):
    if sym:
        mode = "lines+markers"
        marker = dict(symbol=sym, size=ms, color=col, line=dict(color=col, width=2 if sym == "cross-thin" else 0))
    else:
        mode = "lines"
        marker = None
    fig.add_trace(go.Scatter(x=B_POS, y=vals, mode=mode, name=name, legendgroup=f"g{k}",
                             line=dict(color=col, width=2.2, shape="hv"), marker=marker,
                             xaxis="x2", yaxis="y2", showlegend=True))

for k, (name, vals, col, sym, ms) in enumerate(zip(STRAIN_NAMES, STRAIN_VALUES, STRAIN_COLORS,
                                                    STRAIN_SYMBOLS, STRAIN_MSIZE)):
    if sym:
        mode = "lines+markers"
        marker = dict(symbol=sym, size=ms + 1, color=col, line=dict(color=col, width=2 if sym == "cross-thin" else 0))
    else:
        mode = "lines"
        marker = None
    fig.add_trace(go.Scatter(x=inset_cats, y=[vals[i] for i in inset_idx], mode=mode, name=name,
                             legendgroup=f"g{k}", line=dict(color=col, width=2.4), marker=marker,
                             xaxis="x3", yaxis="y3", showlegend=False))

X0, X1 = px_x(172), px_x(2138)
axis_common = dict(showline=True, linecolor="black", ticks="outside", tickcolor="black",
                   zeroline=False, mirror=False)

fig.update_layout(
    width=W, height=H, margin=dict(l=0, r=0, t=0, b=0),
    paper_bgcolor="white", plot_bgcolor="white",
    font=dict(family="Liberation Sans", color="black"),
    xaxis=dict(domain=[X0, X1], range=[357, 121809], anchor="y", tickvals=POSITION_TICKS,
               ticktext=[str(t) for t in POSITION_TICKS], tickangle=-90,
               tickfont=dict(family="Liberation Serif", size=21, weight="bold", color="black"),
               showgrid=False, linewidth=3, ticklen=7, tickwidth=2, **axis_common),
    yaxis=dict(domain=[px_y(1141), px_y(52)], range=[0.0033, 0.3446], anchor="x", tickvals=PI_TICKS,
               ticktext=[f"{t:.2f}" for t in PI_TICKS],
               tickfont=dict(family="Liberation Sans", size=33, weight="bold", color="black"),
               showgrid=False, linewidth=3.5, ticklen=7, tickwidth=2, **axis_common),
    xaxis2=dict(domain=[X0, X1], range=[357, 121809], anchor="y2", tickvals=POSITION_TICKS,
                ticktext=[str(t) for t in POSITION_TICKS], tickangle=-90,
                tickfont=dict(family="Liberation Serif", size=21, weight="bold", color="black"),
                showgrid=False, linewidth=3, ticklen=7, tickwidth=2, **axis_common),
    yaxis2=dict(domain=[px_y(2444), px_y(1238)], range=[589, 1967], anchor="x2", tickvals=LENGTH_TICKS,
                tickfont=dict(family="Liberation Sans", size=32, weight="bold", color="black"),
                showgrid=False, linewidth=3.5, ticklen=7, tickwidth=2, **axis_common),
    xaxis3=dict(domain=[px_x(1601), px_x(2109)], type="category", range=[-0.6, 15.1], anchor="y3",
                tickangle=-90, tickfont=dict(family="Liberation Sans", size=25, weight="bold", color="black"),
                showgrid=False, linewidth=3, ticklen=6, tickwidth=2, **axis_common),
    yaxis3=dict(domain=[px_y(1629), px_y(1289)], range=[603.5, 809.5], anchor="x3", tickvals=INSET_TICKS,
                tickfont=dict(family="Liberation Sans", size=23, weight="bold", color="black"),
                showgrid=False, linewidth=3, ticklen=6, tickwidth=2, **axis_common),
    legend=dict(x=px_x(992), y=px_y(1265), xanchor="left", yanchor="top", bgcolor="rgba(0,0,0,0)",
                font=dict(family="Liberation Serif", size=28, color="black"), tracegroupgap=7,
                itemwidth=45, traceorder="grouped"),
)

# dotted horizontal reference lines (grey grid at tick values, red threshold)
for t in PI_TICKS:
    is_thr = abs(t - PI_THRESHOLD) < 1e-9
    fig.add_shape(type="line", xref="x domain", yref="y", x0=0, x1=1, y0=t, y1=t, layer="below",
                  line=dict(color="#FF1A1A" if is_thr else "#ABABAB", width=2.6 if is_thr else 1.6, dash="dot"))

# connector lines from inset to the zoomed region
for sx in (1595, 2126):
    fig.add_shape(type="line", xref="paper", yref="paper", x0=px_x(sx), y0=px_y(1748),
                  x1=px_x(1976), y1=px_y(2232), line=dict(color="black", width=3, dash="22px,14px"))

# gene labels (rpoB sits above the panel top, so it is placed in the axis-domain frame)
for lab, gx, gy in zip(GENE_LABELS, GENE_LABEL_X, GENE_LABEL_Y):
    if gy > 0.3446:
        fig.add_annotation(x=gx, y=1 + (gy - 0.3446) / (0.3446 - 0.0033), xref="x", yref="y domain",
                           text=f"<b><i>{lab}</i></b>", showarrow=False,
                           font=dict(family="Liberation Serif", size=38, color="black"),
                           xanchor="center", yanchor="middle")
    else:
        fig.add_annotation(x=gx, y=gy, xref="x", yref="y", text=f"<b><i>{lab}</i></b>", showarrow=False,
                           font=dict(family="Liberation Serif", size=38, color="black"),
                           xanchor="center", yanchor="middle")

# axis titles and panel letters
fig.add_annotation(x=px_x(53), y=px_y(590), xref="paper", yref="paper", text="<b>Nucleotide diversity (Pi)</b>",
                   textangle=-90, showarrow=False, font=dict(family="Liberation Sans", size=44, color="black"),
                   xanchor="center", yanchor="middle")
fig.add_annotation(x=px_x(47), y=px_y(1825), xref="paper", yref="paper", text="<b>Length (bp)</b>",
                   textangle=-90, showarrow=False, font=dict(family="Liberation Sans", size=37, color="black"),
                   xanchor="center", yanchor="middle")
fig.add_annotation(x=px_x(48), y=px_y(33), xref="paper", yref="paper", text="<b>A</b>", showarrow=False,
                   font=dict(family="Liberation Sans", size=44, color="black"), xanchor="center", yanchor="middle")
fig.add_annotation(x=px_x(48), y=px_y(1209), xref="paper", yref="paper", text="<b>B</b>", showarrow=False,
                   font=dict(family="Liberation Sans", size=44, color="black"), xanchor="center", yanchor="middle")

fig.write_html("out.html")
